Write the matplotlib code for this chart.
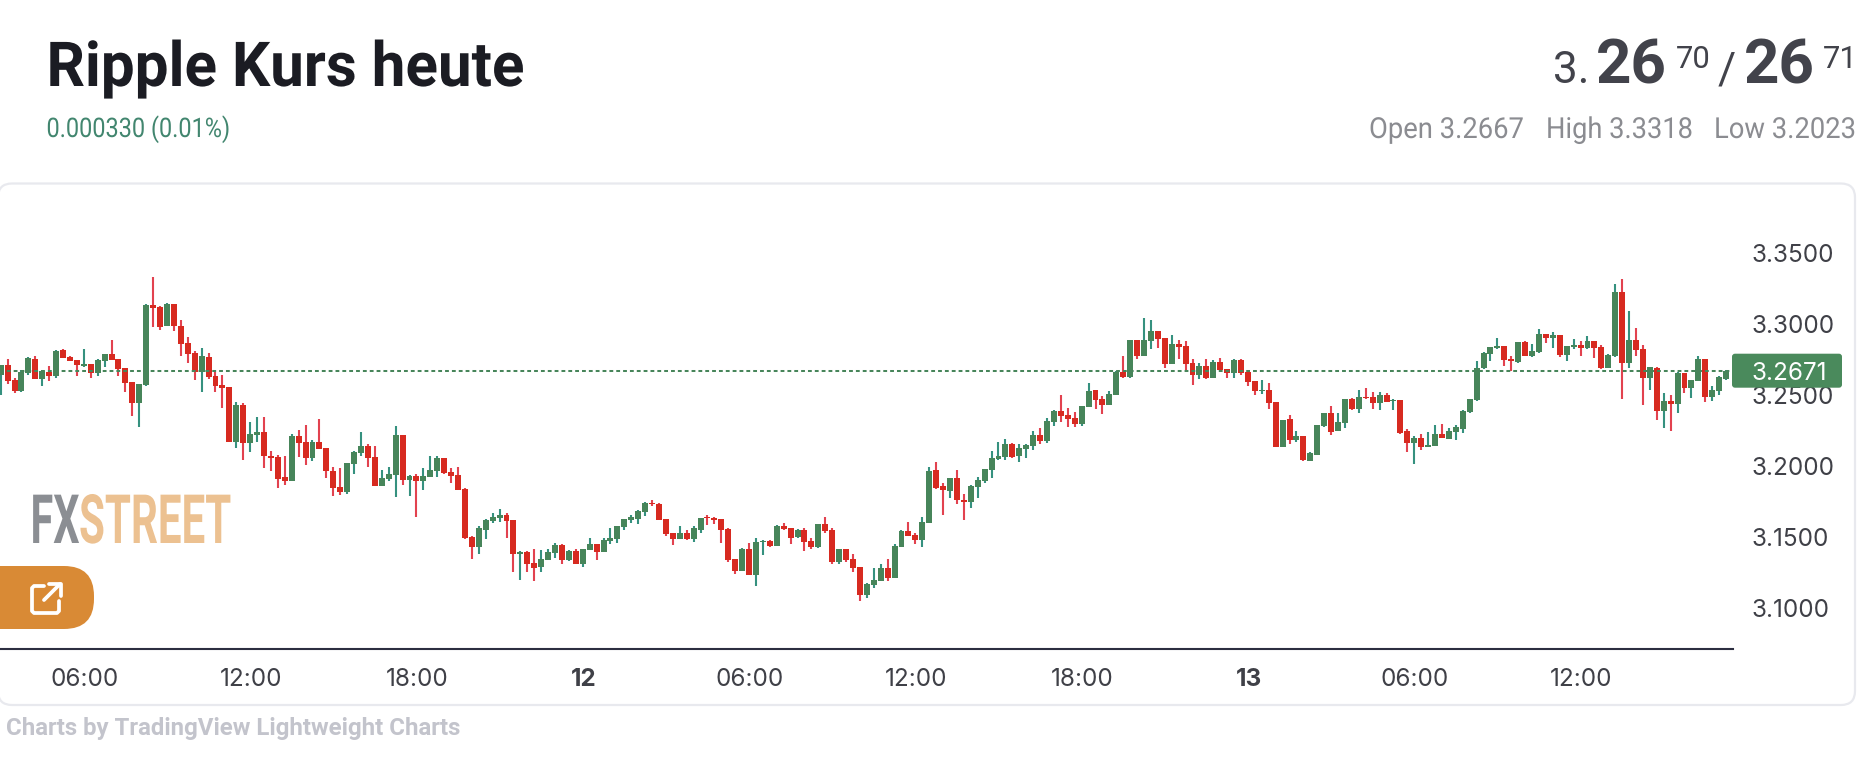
import matplotlib
matplotlib.use("Agg")
import matplotlib.pyplot as plt
from matplotlib.patches import FancyBboxPatch
from matplotlib.patheffects import AbstractPathEffect
from matplotlib.transforms import Affine2D
import numpy as np

opens = [
3.2646,3.2717,3.2610,3.2533,3.2660,3.2759,3.2617,3.2667,3.2639,3.2823,
3.2773,3.2752,3.2710,3.2724,3.2660,3.2745,3.2795,3.2759,3.2695,3.2596,
3.2448,3.2575,3.3141,3.3127,3.2993,3.3148,3.2993,3.2872,3.2802,3.2667,
3.2773,3.2639,3.2575,3.2561,3.2171,3.2433,3.2164,3.2221,3.2242,3.2072,
3.2065,3.1924,3.1895,3.2214,3.2171,3.2058,3.2171,3.2129,3.1966,3.1853,
3.1817,3.2016,3.2094,3.2143,3.2065,3.1860,3.1909,3.1938,3.2221,3.1902,
3.1931,3.1895,3.1924,3.1966,
3.2058,3.1959,3.1938,3.1839,3.1499,3.1428,3.1549,3.1612,3.1633,3.1655,
3.1619,3.1379,3.1393,3.1315,3.1287,3.1336,3.1386,3.1442,3.1336,3.1400,
3.1308,3.1407,3.1450,3.1393,3.1471,3.1485,3.1570,3.1619,3.1626,3.1676,
3.1740,3.1733,3.1626,3.1527,3.1485,3.1527,3.1485,3.1549,3.1641,3.1633,
3.1626,3.1556,3.1343,3.1258,3.1414,3.1230,3.1464,3.1471,3.1435,3.1577,
3.1563,3.1499,3.1549,3.1471,3.1428,3.1591,3.1549,3.1322,3.1414,3.1343,
3.1287,3.1088,3.1159,3.1188,3.1279,3.1209,3.1428,3.1541,3.1513,3.1478,
3.1598,3.1973,3.1860,3.1825,3.1916,3.1761,3.1747,3.1853,3.1895,3.1973,
3.2051,3.2065,3.2157,3.2072,3.2122,3.2143,3.2221,3.2179,3.2313,3.2391,
3.2363,3.2341,3.2299,3.2419,3.2540,3.2476,3.2433,3.2504,3.2667,3.2632,
3.2894,3.2780,3.2887,3.2957,3.2908,3.2724,3.2865,3.2851,3.2731,3.2646,
3.2710,3.2625,3.2738,3.2688,3.2660,3.2752,3.2667,3.2603,3.2533,3.2540,
3.2455,3.2136,3.2334,3.2186,3.2214,3.2037,3.2079,3.2285,3.2377,3.2249,
3.2306,3.2476,3.2405,3.2490,3.2490,3.2448,3.2504,3.2462,3.2469,3.2249,
3.2164,3.2200,3.2136,3.2143,3.2228,3.2193,3.2242,3.2264,3.2384,3.2469,
3.2695,3.2795,3.2837,3.2851,3.2759,3.2738,3.2879,3.2780,3.2809,3.2936,
3.2908,3.2929,3.2787,3.2844,3.2858,3.2837,3.2887,3.2844,3.2695,3.2780,
3.3233,3.2731,3.2894,3.2830,3.2624,3.2695,3.2391,3.2462,3.2441,3.2660,
3.2554,3.2603,3.2759,3.2490,3.2533,3.2617]

closes = [
3.2717,3.2606,3.2533,3.2667,3.2766,3.2617,3.2674,3.2639,3.2816,3.2766,
3.2745,3.2717,3.2724,3.2660,3.2752,3.2795,3.2752,3.2688,3.2589,3.2448,
3.2582,3.3141,3.3120,3.2986,3.3148,3.2993,3.2865,3.2795,3.2667,3.2780,
3.2632,3.2568,3.2554,3.2171,3.2433,3.2164,3.2228,3.2242,3.2072,3.2058,
3.1909,3.1895,3.2214,3.2164,3.2058,3.2171,3.2122,3.1966,3.1846,3.1817,
3.2023,3.2101,3.2143,3.2058,3.1860,3.1917,3.1945,3.2221,3.1902,3.1931,
3.1895,3.1931,3.1973,3.2058,
3.1952,3.1931,3.1832,3.1492,3.1428,3.1563,3.1619,3.1641,3.1655,3.1612,
3.1379,3.1393,3.1308,3.1280,3.1343,3.1393,3.1442,3.1336,3.1400,3.1308,
3.1414,3.1450,3.1393,3.1478,3.1492,3.1577,3.1626,3.1641,3.1683,3.1740,
3.1733,3.1619,3.1520,3.1485,3.1527,3.1485,3.1563,3.1633,3.1633,3.1619,
3.1549,3.1336,3.1258,3.1414,3.1230,3.1464,3.1471,3.1435,3.1577,3.1556,
3.1492,3.1549,3.1464,3.1428,3.1591,3.1542,3.1322,3.1414,3.1336,3.1280,
3.1088,3.1166,3.1195,3.1280,3.1209,3.1435,3.1541,3.1506,3.1478,3.1605,
3.1966,3.1846,3.1832,3.1916,3.1761,3.1747,3.1860,3.1902,3.1980,3.2058,
3.2072,3.2157,3.2065,3.2129,3.2150,3.2221,3.2179,3.2320,3.2391,3.2356,
3.2334,3.2299,3.2426,3.2533,3.2469,3.2433,3.2511,3.2667,3.2632,3.2894,
3.2780,3.2894,3.2957,3.2901,3.2724,3.2865,3.2844,3.2724,3.2646,3.2710,
3.2625,3.2738,3.2681,3.2660,3.2752,3.2660,3.2596,3.2533,3.2540,3.2448,
3.2136,3.2327,3.2186,3.2214,3.2044,3.2096,3.2292,3.2377,3.2242,3.2313,
3.2476,3.2405,3.2490,3.2483,3.2448,3.2504,3.2455,3.2469,3.2235,3.2164,
3.2200,3.2136,3.2150,3.2228,3.2200,3.2249,3.2278,3.2391,3.2476,3.2695,
3.2802,3.2844,3.2851,3.2752,3.2745,3.2879,3.2780,3.2816,3.2936,3.2908,
3.2929,3.2787,3.2851,3.2858,3.2837,3.2887,3.2837,3.2695,3.2787,3.3233,
3.2731,3.2894,3.2823,3.2624,3.2702,3.2391,3.2462,3.2441,3.2660,3.2554,
3.2610,3.2759,3.2490,3.2540,3.2632,3.2671]

highs = [
3.2717,3.2759,3.2624,3.2681,3.2773,3.2780,3.2681,3.2710,3.2823,3.2830,
3.2780,3.2752,3.2830,3.2724,3.2759,3.2795,3.2894,3.2759,3.2695,3.2596,
3.2582,3.3148,3.3340,3.3134,3.3155,3.3148,3.3035,3.2915,3.2816,3.2837,
3.2802,3.2681,3.2646,3.2561,3.2455,3.2448,3.2313,3.2348,3.2348,3.2108,
3.2079,3.2072,3.2228,3.2256,3.2292,3.2186,3.2334,3.2129,3.1994,3.1987,
3.2023,3.2108,3.2242,3.2157,3.2143,3.1973,3.1994,3.2285,3.2221,3.1938,
3.1945,3.1987,3.2072,3.2072,
3.2058,3.1987,3.1994,3.1846,3.1506,3.1577,3.1626,3.1669,3.1697,3.1669,
3.1619,3.1400,3.1400,3.1414,3.1407,3.1414,3.1457,3.1450,3.1407,3.1414,
3.1414,3.1492,3.1450,3.1492,3.1563,3.1577,3.1626,3.1655,3.1690,3.1747,
3.1761,3.1740,3.1626,3.1527,3.1577,3.1549,3.1577,3.1633,3.1655,3.1641,
3.1626,3.1563,3.1343,3.1421,3.1457,3.1492,3.1478,3.1478,3.1584,3.1598,
3.1563,3.1556,3.1563,3.1492,3.1591,3.1641,3.1563,3.1414,3.1414,3.1379,
3.1287,3.1173,3.1280,3.1308,3.1343,3.1449,3.1548,3.1605,3.1527,3.1640,
3.1994,3.2030,3.1881,3.1916,3.1973,3.1803,3.1867,3.1923,3.1980,3.2108,
3.2171,3.2193,3.2164,3.2157,3.2157,3.2249,3.2270,3.2341,3.2398,3.2504,
3.2412,3.2384,3.2426,3.2589,3.2540,3.2497,3.2533,3.2674,3.2780,3.2894,
3.2894,3.3049,3.3035,3.2957,3.2908,3.2929,3.2894,3.2887,3.2759,3.2731,
3.2759,3.2752,3.2766,3.2688,3.2759,3.2759,3.2681,3.2603,3.2610,3.2589,
3.2455,3.2327,3.2363,3.2249,3.2214,3.2101,3.2292,3.2377,3.2426,3.2377,
3.2476,3.2483,3.2540,3.2554,3.2525,3.2525,3.2518,3.2476,3.2469,3.2263,
3.2214,3.2228,3.2242,3.2292,3.2299,3.2271,3.2292,3.2398,3.2476,3.2745,
3.2809,3.2844,3.2908,3.2851,3.2780,3.2879,3.2887,3.2865,3.2971,3.2936,
3.2950,3.2929,3.2851,3.2901,3.2887,3.2922,3.2887,3.2858,3.2795,3.3290,
3.3325,3.3099,3.2979,3.2858,3.2702,3.2702,3.2518,3.2504,3.2667,3.2660,
3.2610,3.2780,3.2759,3.2568,3.2639,3.2681]

lows = [
3.2505,3.2582,3.2519,3.2526,3.2646,3.2617,3.2568,3.2603,3.2624,3.2766,
3.2745,3.2639,3.2702,3.2624,3.2639,3.2702,3.2752,3.2639,3.2526,3.2356,
3.2278,3.2568,3.2986,3.2964,3.2993,3.2957,3.2780,3.2731,3.2610,3.2526,
3.2617,3.2526,3.2412,3.2171,3.2129,3.2044,3.2101,3.2171,3.1987,3.1966,
3.1846,3.1867,3.1895,3.2065,3.2009,3.2037,3.2122,3.1917,3.1789,3.1796,
3.1803,3.1945,3.2072,3.1994,3.1860,3.1860,3.1895,3.1782,3.1867,3.1789,
3.1640,3.1832,3.1924,3.1924,
3.1945,3.1881,3.1832,3.1485,3.1343,3.1379,3.1485,3.1598,3.1605,3.1492,
3.1251,3.1195,3.1251,3.1188,3.1251,3.1336,3.1350,3.1308,3.1329,3.1308,
3.1287,3.1407,3.1336,3.1393,3.1450,3.1457,3.1549,3.1598,3.1591,3.1648,
3.1719,3.1619,3.1506,3.1442,3.1485,3.1478,3.1464,3.1527,3.1584,3.1591,
3.1457,3.1322,3.1237,3.1258,3.1230,3.1152,3.1372,3.1428,3.1435,3.1549,
3.1450,3.1492,3.1400,3.1414,3.1421,3.1527,3.1308,3.1308,3.1322,3.1251,
3.1046,3.1067,3.1138,3.1188,3.1187,3.1209,3.1428,3.1506,3.1449,3.1428,
3.1598,3.1839,3.1655,3.1775,3.1733,3.1619,3.1704,3.1775,3.1881,3.1916,
3.2044,3.2044,3.2058,3.2030,3.2058,3.2115,3.2157,3.2164,3.2285,3.2313,
3.2278,3.2278,3.2285,3.2419,3.2405,3.2370,3.2433,3.2504,3.2625,3.2625,
3.2759,3.2780,3.2830,3.2837,3.2695,3.2724,3.2759,3.2681,3.2575,3.2617,
3.2617,3.2625,3.2674,3.2625,3.2625,3.2646,3.2568,3.2504,3.2511,3.2405,
3.2136,3.2136,3.2157,3.2171,3.2037,3.2037,3.2079,3.2278,3.2221,3.2249,
3.2271,3.2398,3.2377,3.2476,3.2405,3.2398,3.2455,3.2398,3.2228,3.2101,
3.2016,3.2115,3.2136,3.2143,3.2200,3.2193,3.2186,3.2235,3.2377,3.2462,
3.2688,3.2745,3.2830,3.2710,3.2674,3.2731,3.2780,3.2773,3.2802,3.2872,
3.2837,3.2773,3.2745,3.2830,3.2780,3.2830,3.2766,3.2688,3.2695,3.2773,
3.2476,3.2695,3.2780,3.2433,3.2540,3.2327,3.2271,3.2249,3.2377,3.2518,
3.2483,3.2603,3.2455,3.2462,3.2504,3.2610]

current_price = 3.2671
y_ticks = [3.10, 3.15, 3.20, 3.25, 3.30, 3.35]
x_tick_index = [12, 36, 60, 84, 108, 132, 156, 180, 204, 228]
x_tick_labels = ["06:00", "12:00", "18:00", "12", "06:00", "12:00", "18:00", "13", "06:00", "12:00"]

W, H = 1873, 765
GREEN, RED = "#47855a", "#d72a20"
GREEN_W, RED_W = "#35917f", "#e2424f"
TXT = "#3f4047"
fig = plt.figure(figsize=(W/100, H/100), dpi=100, facecolor="white")

bg = fig.add_axes([0, 0, 1, 1], zorder=0)
bg.set_xlim(0, W); bg.set_ylim(H, 0); bg.axis("off")
card = FancyBboxPatch((-2, 183.5), 1857, 521.5, boxstyle="round,pad=0,rounding_size=14",
                      fc="white", ec="#e8e9ee", lw=1.6)
bg.add_patch(card)

# chart: price axis calibrated on the tick labels and on the last price
top_px, bot_px, right_px = 185, 649, 1733
PX_PER_UNIT, LAST_PX = 1419, 370.7
ax = fig.add_axes([0, 1-bot_px/H, right_px/W, (bot_px-top_px)/H], zorder=2)
ax.patch.set_alpha(0)
def p_of(y):
    return current_price - (y-LAST_PX)/PX_PER_UNIT
ax.set_ylim(p_of(bot_px), p_of(top_px))
ax.set_xlim(-0.097, 250.0)
idx = np.arange(len(opens))
# readings were taken against a slightly coarser scale estimate; bring them onto the axis
o, h, l, c = [3.29931 - (3.30 - np.array(v))*0.99535 for v in (opens, highs, lows, closes)]
up = np.array(closes) >= np.array(opens)
ax.vlines(idx[up], l[up], h[up], color=GREEN_W, lw=1.5, zorder=2)
ax.vlines(idx[~up], l[~up], h[~up], color=RED_W, lw=1.5, zorder=2)
ax.bar(idx[up], (c-o)[up], bottom=o[up], width=0.86, color=GREEN, lw=0, zorder=3)
ax.bar(idx[~up], (o-c)[~up], bottom=c[~up], width=0.86, color=RED, lw=0, zorder=3)
ax.axhline(current_price, color=GREEN, lw=1.45, dashes=(1.9, 1.5), zorder=4)

for s in ("top", "left", "right"):
    ax.spines[s].set_visible(False)
ax.spines["bottom"].set_color("#2c2e40")
ax.spines["bottom"].set_linewidth(1.5)
ax.yaxis.tick_right()
ax.set_yticks(y_ticks, [f"{v:.4f}" for v in y_ticks])
ax.set_xticks(np.array(x_tick_index)+0.12, x_tick_labels)
ax.tick_params(axis="y", length=0, pad=13, labelsize=17.5, labelcolor=TXT)
ax.tick_params(axis="x", length=0, pad=14, labelsize=17.5, labelcolor=TXT)
for t in ax.get_xticklabels() + ax.get_yticklabels():
    t.set_fontfamily("Inter")
for t in ax.get_xticklabels():
    if t.get_text() in ("12", "13"):
        t.set_fontweight("bold")

ov = fig.add_axes([0, 0, 1, 1], zorder=3)
ov.set_xlim(0, W); ov.set_ylim(H, 0); ov.axis("off")
ov.patch.set_alpha(0)

ov.add_patch(FancyBboxPatch((1732, LAST_PX-17), 110, 34, boxstyle="round,pad=0,rounding_size=3",
                            fc="#4a8a5c", ec="none"))
ov.text(1752, LAST_PX, f"{current_price:.4f}", color="white", family="Inter", fontsize=17.5,
        va="center_baseline", ha="left")

class Stretch(AbstractPathEffect):
    def __init__(self, sx, sy=1.0):
        super().__init__()
        self.sx, self.sy = sx, sy
    def draw_path(self, renderer, gc, tpath, affine, rgbFace=None):
        renderer.draw_path(gc, tpath, Affine2D().scale(self.sx, self.sy) + affine, rgbFace)

def T(x, y, s, size_px, color, weight="normal", ha="left", family="Roboto", sx=None, sy=1.0, **kw):
    if sx is not None:
        kw["path_effects"] = [Stretch(sx, sy)]
    return ov.text(x, y, s, fontsize=size_px*0.72, color=color, fontweight=weight, ha=ha,
                   va="baseline", family=family, **kw)

T(46.5, 86, "Ripple Kurs heute", 62, "#1b1c23", "bold", sx=0.97)
T(46.5, 137, "0.000330 (0.01%)", 27, "#42866f", sx=0.87)
DK = "#42434b"
T(1553, 83, "3.", 44, DK)
T(1596, 83, "26", 62, DK, "bold")
T(1676, 68, "70", 31, DK)
T(1718, 83, "/", 44, DK)
T(1744, 83, "26", 62, DK, "bold")
T(1823, 68, "71", 31, DK)
G2 = "#8b8c91"
T(1369, 138, "Open 3.2667", 29, G2, sx=0.945)
T(1546, 138, "High 3.3318", 29, G2, sx=0.94)
T(1714, 138, "Low 3.2023", 29, G2, sx=0.945)
T(6, 735, "Charts by TradingView Lightweight Charts", 24, "#c3c4cc", "bold")

T(30.5, 543, "FX", 36, "#8b8e93", "bold", sx=1.15, sy=1.889)
T(79, 543, "STREET", 36, "#ecc191", "bold", sx=1.17, sy=1.889)

ov.add_patch(FancyBboxPatch((-40, 566), 134, 63, boxstyle="round,pad=0,rounding_size=30",
                            fc="#d98a35", ec="none"))
icon = dict(color="white", lw=2.7, solid_capstyle="round", solid_joinstyle="round")
ov.plot([44, 34, 32, 32, 34, 57, 59, 59], [586, 586, 588, 611, 613, 613, 611, 601], **icon)
ov.plot([44, 60], [600, 584], **icon)
ov.plot([49, 61, 61], [584, 584, 596], **icon)
ov.set_xlim(0, W); ov.set_ylim(H, 0)

fig.savefig("out.png", dpi=100, facecolor="white")
